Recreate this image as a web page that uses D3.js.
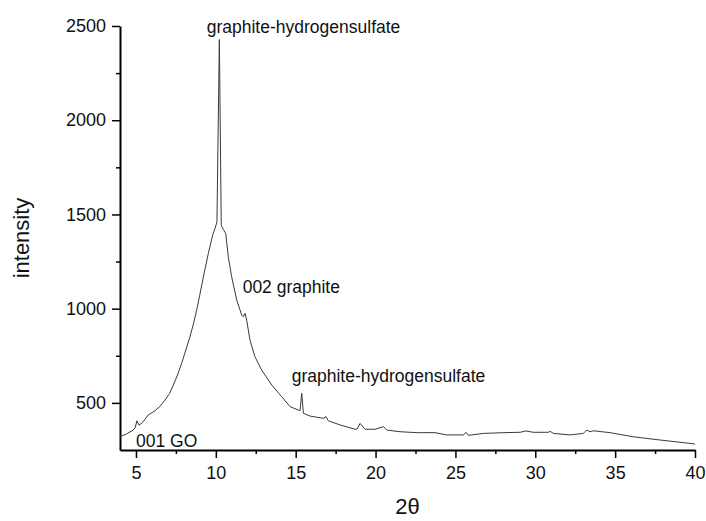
<!DOCTYPE html>
<html>
<head>
<meta charset="utf-8">
<script src="https://cdn.jsdelivr.net/npm/d3@7"></script>
<style>
  body { margin: 0; background: #fff; }
  svg { display: block; font-family: "Liberation Sans", Arial, sans-serif; }
</style>
</head>
<body>
<div id="chart"></div>
<script>
// XRD pattern
const twoTheta = [4.0, 4.4, 4.83, 4.95, 5.06, 5.19, 5.4, 5.77, 6.19, 6.5, 6.82, 7.1, 7.34, 7.6, 7.86, 8.1,
  8.38, 8.6, 8.8, 9.0, 9.22, 9.53, 9.8, 9.95, 10.07, 10.22, 10.34, 10.47, 10.62, 10.78, 10.99, 11.31,
  11.62, 11.72, 11.83, 11.93, 12.14, 12.45, 12.87, 13.5, 14.12, 14.65, 15.17, 15.27, 15.38, 15.48, 15.9,
  16.73, 16.9, 17.04, 17.78, 18.71, 18.85, 19.03, 19.34, 19.97, 20.49, 20.7, 21.53, 22.58, 23.72, 24.46,
  25.5, 25.67, 25.81, 26.75, 28.0, 29.05, 29.42, 29.88, 30.82, 30.93, 31.14, 32.18, 33.01, 33.22, 33.43,
  33.64, 34.68, 36.14, 37.81, 39.27, 40.0];
const intensity = [320, 335, 356, 368, 405, 382, 395, 436, 458, 482, 515, 550, 595, 648, 710, 775,
  851, 920, 992, 1075, 1169, 1293, 1390, 1426, 1460, 2428, 1443, 1420, 1399, 1275, 1169, 1045,
  966, 957, 975, 939, 833, 745, 674, 595, 533, 480, 462, 458, 551, 445, 430,
  418, 427, 405, 383, 360, 362, 391, 360, 360, 374, 356, 347, 342, 342, 330,
  330, 344, 328, 338, 342, 344, 351, 344, 344, 349, 338, 330, 338, 356, 347,
  352, 342, 320, 303, 289, 282];

const xMajor = [5, 10, 15, 20, 25, 30, 35, 40];
const xMinor = [7.5, 12.5, 17.5, 22.5, 27.5, 32.5, 37.5];
const yMajor = [500, 1000, 1500, 2000, 2500];
const yMinor = [750, 1250, 1750, 2250];

const labelText = ['graphite-hydrogensulfate', '002 graphite', 'graphite-hydrogensulfate', '001 GO'];
const labelX = [9.43, 11.68, 14.75, 5.0];
const labelY = [2464, 1083, 611, 267];

const width = 706, height = 521;
const margin = { top: 26, right: 11, bottom: 71, left: 120 };

const svg = d3.select('#chart').append('svg')
  .attr('width', width)
  .attr('height', height);

const x = d3.scaleLinear().domain([4, 40]).range([margin.left, width - margin.right]);
const y = d3.scaleLinear().domain([250, 2500]).range([height - margin.bottom, margin.top]);

const data = twoTheta.map((t, i) => ({ t, v: intensity[i] }));

// minor ticks first, then major ticks with labels
svg.append('g')
  .attr('transform', `translate(0,${y(250)})`)
  .call(d3.axisBottom(x).tickValues(xMinor).tickSize(4).tickFormat(''))
  .call(g => g.select('.domain').remove())
  .call(g => g.selectAll('line').attr('stroke-width', 1.5));

svg.append('g')
  .attr('transform', `translate(${x(4)},0)`)
  .call(d3.axisLeft(y).tickValues(yMinor).tickSize(4).tickFormat(''))
  .call(g => g.select('.domain').remove())
  .call(g => g.selectAll('line').attr('stroke-width', 1.5));

svg.append('g')
  .attr('transform', `translate(0,${y(250)})`)
  .call(d3.axisBottom(x).tickValues(xMajor).tickFormat(d3.format('d')).tickSize(8).tickSizeOuter(0).tickPadding(8))
  .call(g => g.select('.domain').attr('stroke-width', 2))
  .call(g => g.selectAll('line').attr('stroke-width', 1.5))
  .call(g => g.selectAll('text').attr('font-size', 18).attr('font-family', null).attr('fill', '#111'));

svg.append('g')
  .attr('transform', `translate(${x(4)},0)`)
  .call(d3.axisLeft(y).tickValues(yMajor).tickFormat(d3.format('d')).tickSize(8).tickSizeOuter(0).tickPadding(6))
  .call(g => g.select('.domain').attr('stroke-width', 2))
  .call(g => g.selectAll('line').attr('stroke-width', 1.5))
  .call(g => g.selectAll('text').attr('font-size', 18).attr('font-family', null).attr('fill', '#111'));

const line = d3.line()
  .x(d => x(d.t))
  .y(d => y(d.v));

svg.append('path')
  .datum(data)
  .attr('fill', 'none')
  .attr('stroke', '#3a3a3a')
  .attr('stroke-width', 1)
  .attr('stroke-linejoin', 'round')
  .attr('d', line);

// peak annotations
svg.append('g').selectAll('text')
  .data(labelText)
  .join('text')
  .attr('x', (d, i) => x(labelX[i]))
  .attr('y', (d, i) => y(labelY[i]))
  .attr('font-size', 17.5)
  .attr('fill', '#111')
  .text(d => d);

// axis titles
svg.append('text')
  .attr('transform', `translate(29,${(y(250) + y(2500)) / 2}) rotate(-90)`)
  .attr('text-anchor', 'middle')
  .attr('font-size', 22)
  .attr('fill', '#111')
  .text('intensity');

svg.append('text')
  .attr('x', (x(4) + x(40)) / 2)
  .attr('y', 514)
  .attr('text-anchor', 'middle')
  .attr('font-size', 22)
  .attr('fill', '#111')
  .text('2θ');
</script>
</body>
</html>
